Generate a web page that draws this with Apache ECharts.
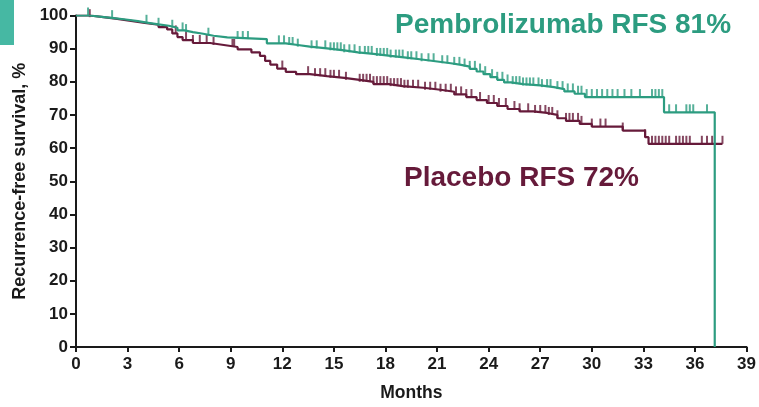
<!DOCTYPE html>
<html>
<head>
<meta charset="utf-8">
<script src="https://cdn.jsdelivr.net/npm/echarts@6/dist/echarts.min.js"></script>
<style>
  html, body { margin: 0; padding: 0; background: #ffffff; }
  #chart { width: 759px; height: 407px; }
</style>
</head>
<body>
<div id="chart"></div>
<script>
// Kaplan-Meier recurrence-free survival, step points [month, survival %]
var pembroSteps = [
  [0, 100], [0.8, 99.6], [1.5, 99.2], [2.2, 98.8], [2.9, 98.3], [3.6, 97.8],
  [4.2, 97.3], [4.8, 96.9], [5.4, 96.3], [5.9, 95.5], [6.3, 95.0], [6.8, 94.5],
  [7.4, 93.9], [8.0, 93.4], [8.8, 92.9], [11.1, 91.6], [12.2, 91.1], [12.9, 90.6],
  [13.6, 90.1], [14.6, 89.5], [15.6, 88.9], [16.4, 88.4], [17.3, 87.8], [18.3, 87.3],
  [19.2, 86.8], [20.0, 86.2], [20.9, 85.6], [21.8, 85.1], [22.4, 84.6], [22.9, 83.9],
  [23.3, 83.1], [23.7, 82.3], [24.1, 81.4], [24.5, 80.6], [24.9, 79.8], [25.3, 79.3],
  [26.0, 78.9], [27.0, 78.4], [27.8, 77.8], [28.4, 77.1], [29.0, 76.4], [29.6, 75.4],
  [34.2, 70.8], [37.15, 0]
];
var placeboSteps = [
  [0, 100], [0.8, 99.5], [1.6, 99.0], [2.4, 98.4], [3.2, 97.8], [4.0, 97.2],
  [4.8, 96.5], [5.3, 95.8], [5.6, 94.6], [5.9, 93.5], [6.2, 92.6], [6.8, 91.7],
  [7.8, 91.1], [8.6, 90.5], [9.4, 89.8], [10.2, 88.9], [10.7, 87.8], [11.0, 86.3],
  [11.3, 85.2], [11.7, 84.0], [12.2, 83.0], [12.8, 82.3], [13.6, 81.7], [14.6, 81.2],
  [15.6, 80.6], [16.5, 80.0], [17.3, 79.3], [18.2, 78.7], [19.0, 78.2], [20.2, 77.6],
  [21.2, 77.0], [22.0, 76.2], [22.7, 75.4], [23.3, 74.5], [23.9, 73.6], [24.5, 72.7],
  [25.1, 71.8], [25.8, 71.1], [26.6, 70.6], [27.4, 70.0], [28.0, 69.0], [28.5, 68.2],
  [29.3, 67.3], [30.0, 66.5], [31.8, 65.3], [33.1, 63.3], [33.3, 61.3], [37.6, 61.3]
];

// Censoring times (months)
var pembroCensored = [
  0.7, 2.1, 4.1, 4.8, 5.6, 6.2, 6.4, 7.7, 9.4, 9.7, 10.0, 11.8, 12.1, 12.4, 12.6,
  12.9, 13.7, 14.0, 14.5, 14.8, 15.0, 15.2, 15.4, 15.6, 15.9, 16.2, 16.5, 16.8, 17.0,
  17.2, 17.5, 17.7, 17.9, 18.1, 18.3, 18.6, 18.8, 19.0, 19.3, 19.5, 19.8, 20.1, 20.5,
  20.8, 21.3, 21.6, 22.0, 22.3, 22.6, 22.9, 23.2, 23.5, 23.8, 24.2, 24.5, 24.8, 25.1,
  25.4, 25.6, 25.8, 26.0, 26.2, 26.4, 26.6, 26.9, 27.1, 27.4, 27.6, 28.0, 28.3, 28.6,
  28.9, 29.2, 29.4, 29.7, 30.0, 30.3, 30.6, 30.9, 31.2, 31.5, 31.9, 32.3, 32.8, 33.5,
  33.7, 33.9, 34.1, 34.5, 34.9, 35.5, 35.7, 35.9, 36.7
];
var placeboCensored = [
  0.8, 5.8, 6.4, 6.8, 7.2, 7.6, 8.0, 9.1, 9.2, 12.0, 13.5, 13.9, 14.2, 14.5, 14.8,
  15.0, 15.3, 15.7, 16.5, 16.7, 16.9, 17.1, 17.3, 17.5, 17.7, 17.9, 18.1, 18.3, 18.5,
  18.7, 18.9, 19.1, 19.3, 19.6, 19.9, 20.3, 20.6, 20.9, 21.2, 21.5, 21.8, 22.1, 22.4,
  22.7, 23.0, 23.5, 24.0, 24.3, 24.6, 25.0, 25.5, 25.8, 26.3, 26.7, 27.0, 27.3, 27.5,
  27.7, 28.0, 28.5, 28.7, 28.9, 29.2, 29.4, 30.0, 30.5, 30.8, 31.8, 33.1, 33.5, 33.7,
  33.9, 34.1, 34.3, 34.5, 34.9, 35.1, 35.3, 35.5, 35.7, 36.4, 36.7, 37.0, 37.6
];

var xTicks = [0, 3, 6, 9, 12, 15, 18, 21, 24, 27, 30, 33, 36, 39];
var yTicks = [0, 10, 20, 30, 40, 50, 60, 70, 80, 90, 100];

var TEAL = '#2c9c80';
var MAROON = '#661a3a';

// survival value of a step curve at time t
function survivalAt(steps, t) {
  var s = steps[0][1];
  for (var i = 0; i < steps.length; i++) {
    if (steps[i][0] <= t) s = steps[i][1]; else break;
  }
  return s;
}
function censorPoints(steps, times) {
  return times.map(function (t) { return [t, survivalAt(steps, t)]; });
}

var chart = echarts.init(document.getElementById('chart'), null, { renderer: 'canvas' });
var font = 'Liberation Sans, Arial, sans-serif';

chart.setOption({
  animation: false,
  backgroundColor: '#ffffff',
  grid: { left: 76, right: 12, top: 15.5, bottom: 57, containLabel: false },
  xAxis: {
    type: 'value', min: 0, max: 39, interval: 3,
    name: 'Months', nameLocation: 'middle', nameGap: 37,
    nameTextStyle: { fontFamily: font, fontWeight: 'bold', fontSize: 17.5, color: '#1a1a1a' },
    axisLine: { lineStyle: { color: '#1a1a1a', width: 2 } },
    axisTick: { show: true, length: 5, lineStyle: { color: '#1a1a1a', width: 2 } },
    axisLabel: {
      fontFamily: font, fontWeight: 'bold', fontSize: 17, color: '#1a1a1a', margin: 9,
      formatter: function (v) { return xTicks.indexOf(v) >= 0 ? String(v) : ''; }
    },
    splitLine: { show: false }
  },
  yAxis: {
    type: 'value', min: 0, max: 100, interval: 10,
    name: 'Recurrence-free survival, %', nameLocation: 'middle', nameGap: 43, nameRotate: 90,
    nameTextStyle: { fontFamily: font, fontWeight: 'bold', fontSize: 18, color: '#1a1a1a' },
    axisLine: { show: true, lineStyle: { color: '#1a1a1a', width: 2 } },
    axisTick: { show: true, length: 6, lineStyle: { color: '#1a1a1a', width: 2 } },
    axisLabel: {
      fontFamily: font, fontWeight: 'bold', fontSize: 17, color: '#1a1a1a', margin: 8,
      formatter: function (v) { return yTicks.indexOf(v) >= 0 ? String(v) : ''; }
    },
    splitLine: { show: false }
  },
  graphic: [
    { type: 'rect', left: 0, top: 0, shape: { width: 14, height: 45 },
      style: { fill: '#46b8a3' }, z: 0 },
    { type: 'text', left: 395, top: 11,
      style: { text: 'Pembrolizumab RFS 81%', fill: TEAL, font: 'bold 28px ' + font } },
    { type: 'text', left: 404, top: 164,
      style: { text: 'Placebo RFS 72%', fill: MAROON, font: 'bold 28px ' + font } }
  ],
  series: [
    {
      name: 'Placebo', type: 'line', step: 'end', data: placeboSteps,
      showSymbol: false, lineStyle: { color: MAROON, width: 2.2 }, z: 3
    },
    {
      name: 'Pembrolizumab', type: 'line', step: 'end', data: pembroSteps,
      showSymbol: false, lineStyle: { color: TEAL, width: 2.2 }, z: 4
    },
    {
      name: 'Placebo censored', type: 'scatter', data: censorPoints(placeboSteps, placeboCensored),
      symbol: 'rect', symbolSize: [2, 8], symbolOffset: [0, -4],
      itemStyle: { color: MAROON }, z: 3
    },
    {
      name: 'Pembrolizumab censored', type: 'scatter', data: censorPoints(pembroSteps, pembroCensored),
      symbol: 'rect', symbolSize: [2, 8], symbolOffset: [0, -4],
      itemStyle: { color: TEAL }, z: 4
    }
  ]
});
</script>
</body>
</html>
